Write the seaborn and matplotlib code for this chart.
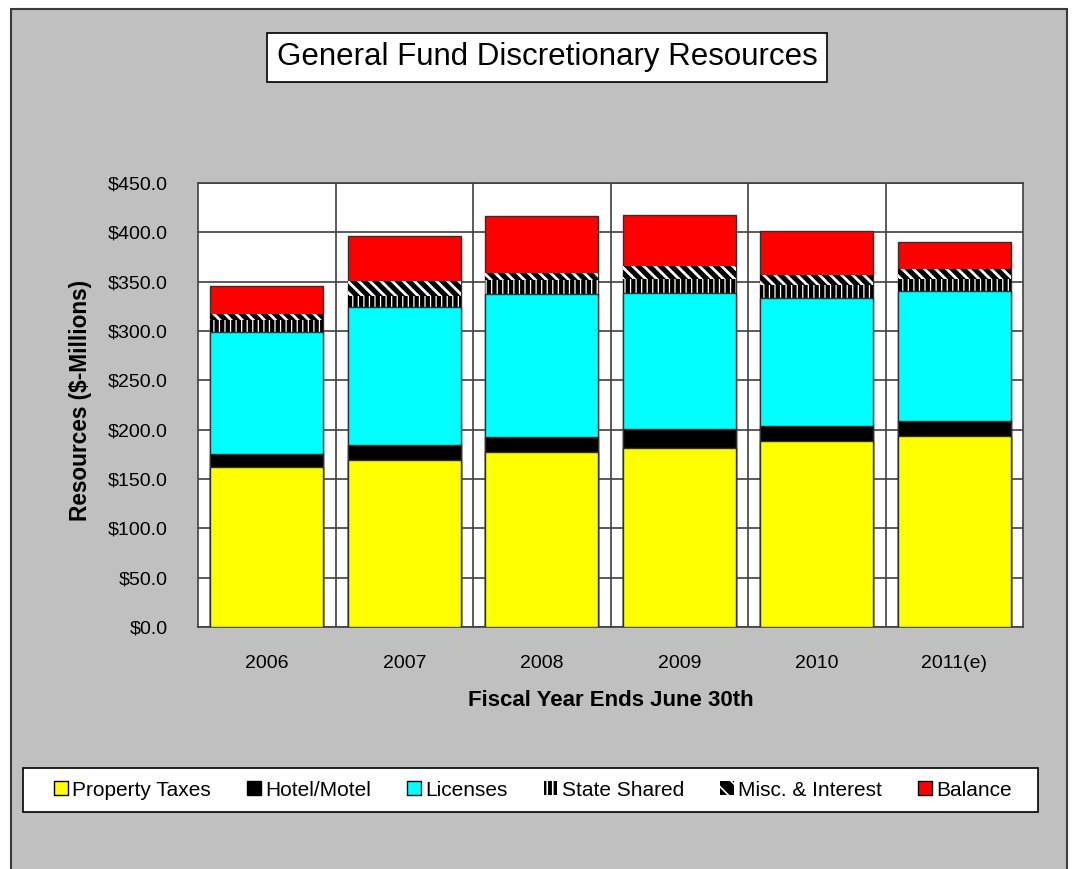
import numpy as np
import pandas as pd
import seaborn as sns
import matplotlib.pyplot as plt
from matplotlib.patches import Patch, Rectangle

years = ["2006", "2007", "2008", "2009", "2010", "2011(e)"]
property_taxes = [161.8, 169.3, 177.4, 181.1, 188.5, 193.3]
hotel_motel = [13.8, 15.2, 15.5, 19.9, 14.9, 15.1]
licenses = [123.7, 139.5, 144.6, 137.8, 130.4, 131.8]
state_shared = [11.7, 11.5, 14.2, 13.6, 12.5, 12.2]
misc_interest = [6.2, 15.5, 6.8, 13.5, 10.7, 10.8]
balance = [28.4, 45.3, 58.4, 51.3, 44.7, 27.3]

names = ["Property Taxes", "Hotel/Motel", "Licenses", "State Shared", "Misc. & Interest", "Balance"]
colors = ["#FFFF00", "#000000", "#00FFFF", "#000000", "#000000", "#FF0000"]
hatches = [None, None, None, "|||", "\\\\\\", None]
hatch_lw = [None, None, None, 0.9, 2.0, None]

df = pd.DataFrame({"year": years, "Property Taxes": property_taxes, "Hotel/Motel": hotel_motel,
                   "Licenses": licenses, "State Shared": state_shared,
                   "Misc. & Interest": misc_interest, "Balance": balance})
cum = df[names].cumsum(axis=1)

plt.rcParams["font.family"] = ["Liberation Sans", "DejaVu Sans"]
plt.rcParams["hatch.linewidth"] = 1.2

fig = plt.figure(figsize=(10.73, 8.69), dpi=100, facecolor="white")
fig.patches.append(Rectangle((11 / 1073, -0.02), (1067 - 11) / 1073, 1.02 - 9 / 869, transform=fig.transFigure,
                             facecolor="#C0C0C0", edgecolor="#3a3a3a", linewidth=1.5, zorder=-2))

ax = fig.add_axes([198 / 1073, 1 - 627 / 869, (1023 - 198) / 1073, (627 - 183) / 869])
ax.set_facecolor("white")

# stacked bars: draw cumulative totals from the top layer down
for i in range(len(names) - 1, -1, -1):
    n_before = len(ax.patches)
    sns.barplot(x=df["year"], y=cum[names[i]], order=years, color=colors[i], saturation=1,
                width=0.82, edgecolor="#303030", linewidth=1.0, ax=ax, zorder=3)
    if hatches[i]:
        for p in ax.patches[n_before:]:
            p.set_hatch(hatches[i])
            p.set_edgecolor("white")
            p.set_linewidth(0)
            if hasattr(p, "set_hatch_linewidth"):
                p.set_hatch_linewidth(hatch_lw[i])

ax.set_ylim(0, 450)
ax.set_xlim(-0.5, 5.5)
ax.set_yticks(np.arange(0, 451, 50))
ax.set_yticklabels([f"${v:.1f}" for v in np.arange(0, 451, 50)], fontsize=14)
ax.set_xticks(range(len(years)))
ax.set_xticklabels(years, fontsize=14)
ax.set_xticks(np.arange(0.5, 5.5, 1), minor=True)
ax.tick_params(axis="both", which="both", length=0)
ax.tick_params(axis="y", pad=22)
ax.tick_params(axis="x", pad=20)
ax.set_axisbelow(True)
ax.grid(axis="y", which="major", color="#404040", linewidth=1.2)
ax.grid(axis="x", which="minor", color="#404040", linewidth=1.2)
ax.grid(axis="x", which="major", visible=False)
for s in ax.spines.values():
    s.set_color("#404040")
    s.set_linewidth(1.2)

ax.set_xlabel("Fiscal Year Ends June 30th", fontsize=16, fontweight="bold")
ax.xaxis.label.set_va("center")
ax.xaxis.set_label_coords(0.5, -0.166)
ax.set_ylabel("Resources ($-Millions)", fontsize=16.3, fontweight="bold")
ax.yaxis.label.set_va("center")
ax.yaxis.set_label_coords(-0.143, 0.51)

fig.text(547 / 1073, 1 - 57.5 / 869, "General Fund Discretionary Resources", fontsize=22.5,
         ha="center", va="center",
         bbox=dict(boxstyle="square,pad=0.3", facecolor="white", edgecolor="black", linewidth=1.2))

# legend box
fig.patches.append(Rectangle((23 / 1073, 1 - 812 / 869), (1038 - 23) / 1073, 44 / 869,
                             transform=fig.transFigure, facecolor="white", edgecolor="black",
                             linewidth=1.2, zorder=-1))
handles = []
for n, c, h in zip(names, colors, hatches):
    if h:
        handles.append(Patch(facecolor=c, edgecolor="white", hatch=h.replace("\\\\\\", "\\\\"), linewidth=0))
    else:
        handles.append(Patch(facecolor=c, edgecolor="black", linewidth=1))
fig.legend(handles, names, loc="center", bbox_to_anchor=(533 / 1073, 1 - 790 / 869), ncol=6,
           frameon=False, fontsize=15, handlelength=0.65, handleheight=0.65, handletextpad=0.2,
           columnspacing=1.75)

fig.savefig("out.png", dpi=100, facecolor=fig.get_facecolor())
